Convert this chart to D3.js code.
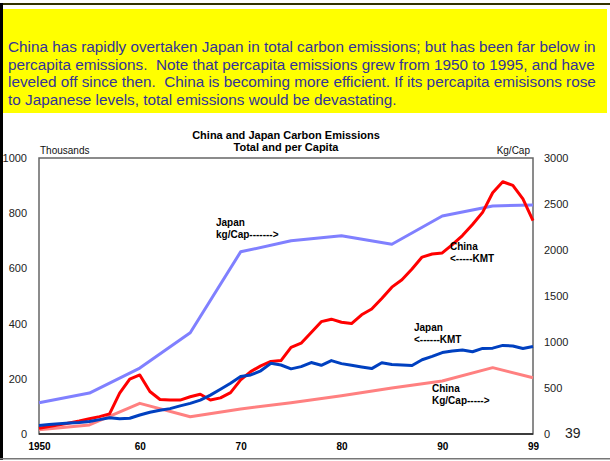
<!DOCTYPE html>
<html>
<head>
<meta charset="utf-8">
<script src="https://cdn.jsdelivr.net/npm/d3@7"></script>
<style>
  html, body { margin: 0; padding: 0; background: #fff; }
  svg { display: block; }
  .caption { white-space: pre; }
</style>
</head>
<body>
<svg id="chart" width="610" height="461"></svg>
<script>
// Annual emissions, thousand metric tons of carbon (left axis)
const years = d3.range(1950, 2000);
const chinaKmt = [21, 27, 33, 40, 47, 55, 63, 73, 148, 199,
                  214, 154, 125, 123, 123, 135, 144, 123, 131, 150,
                  196, 226, 247, 263, 266, 314, 329, 368, 407, 416,
                  405, 400, 432, 453, 491, 532, 559, 598, 641, 652,
                  656, 686, 719, 759, 803, 874, 914, 901, 852, 773];
const japanKmt = [31, 34, 37, 40, 42, 45, 52, 59, 55, 57,
                  69, 79, 86, 92, 102, 111, 123, 141, 162, 184,
                  208, 214, 229, 256, 250, 236, 244, 259, 249, 266,
                  255, 249, 243, 237, 258, 252, 250, 248, 269, 281,
                  295, 301, 304, 298, 310, 311, 321, 319, 310, 317];

// Per-capita emissions, kg per person (right axis)
const perCapYears = [1950, 1955, 1960, 1965, 1970, 1975, 1980, 1985, 1990, 1995, 1999];
const japanKgCap = [340, 445, 717, 1100, 1980, 2100, 2155, 2062, 2370, 2478, 2490];
const chinaKgCap = [45, 98, 333, 188, 272, 340, 416, 500, 576, 721, 612];

// Tick labels
const leftTicks = [0, 200, 400, 600, 800, 1000];
const rightTicks = [0, 500, 1000, 1500, 2000, 2500, 3000];
const xTicks = [1950, 1960, 1970, 1980, 1990, 1999];

const captionLines = [
  "China has rapidly overtaken Japan in total carbon emissions; but has been far below in",
  "percapita emissions.  Note that percapita emissions grew from 1950 to 1995, and have",
  "leveled off since then.  China is becoming more efficient. If its percapita emisisons rose",
  "to Japanese levels, total emissions would be devastating."
];

const svg = d3.select("#chart");
const font = "Arial, 'Liberation Sans', Helvetica, sans-serif";

// Caption box
svg.append("rect").attr("x", 3).attr("y", 9).attr("width", 604).attr("height", 104).attr("fill", "#ffff00");
svg.append("g").selectAll("text").data(captionLines).join("text")
  .attr("class", "caption")
  .attr("x", 8).attr("y", (d, i) => 52 + i * 17.7)
  .attr("font-family", font).attr("font-size", 15.3).attr("fill", "#333399")
  .text(d => d);

// Scales
const plot = { left: 39, right: 533, top: 158, bottom: 434 };
const x = d3.scaleLinear().domain([1950, 1999]).range([plot.left, plot.right]);
const yL = d3.scaleLinear().domain([0, 1000]).range([plot.bottom, plot.top]);
const yR = d3.scaleLinear().domain([0, 3000]).range([plot.bottom, plot.top]);

// Titles
svg.append("text").attr("x", 286).attr("y", 139).attr("text-anchor", "middle")
  .attr("font-family", font).attr("font-size", 11).attr("font-weight", "bold").text("China and Japan Carbon Emissions");
svg.append("text").attr("x", 286).attr("y", 151).attr("text-anchor", "middle")
  .attr("font-family", font).attr("font-size", 11).attr("font-weight", "bold").text("Total and per Capita");
svg.append("text").attr("x", 40).attr("y", 154)
  .attr("font-family", font).attr("font-size", 10).attr("fill", "#111").text("Thousands");
svg.append("text").attr("x", 530).attr("y", 154).attr("text-anchor", "end")
  .attr("font-family", font).attr("font-size", 10).attr("fill", "#111").text("Kg/Cap");

// Axes
const styleAxis = g => {
  g.select(".domain").remove();
  g.selectAll("text").attr("font-family", font).attr("fill", "#222");
};
svg.append("g").attr("transform", `translate(${plot.left},0)`)
  .call(d3.axisLeft(yL).tickValues(leftTicks).tickSize(0).tickPadding(12).tickFormat(d3.format("d")))
  .call(styleAxis)
  .call(g => g.selectAll("text").attr("font-size", 11));
svg.append("g").attr("transform", `translate(${plot.right},0)`)
  .call(d3.axisRight(yR).tickValues(rightTicks).tickSize(0).tickPadding(11).tickFormat(d3.format("d")))
  .call(styleAxis)
  .call(g => g.selectAll("text").attr("font-size", 11));
svg.append("g").attr("transform", `translate(0,${plot.bottom})`)
  .call(d3.axisBottom(x).tickValues(xTicks).tickSize(0).tickPadding(9)
    .tickFormat(d => d === 1950 ? "1950" : String(d % 100).padStart(2, "0")))
  .call(styleAxis)
  .call(g => g.selectAll("text").attr("font-size", 10).attr("font-weight", "bold").attr("fill", "#000"));

// Plot frame
svg.append("rect").attr("x", plot.left).attr("y", plot.top)
  .attr("width", plot.right - plot.left).attr("height", plot.bottom - plot.top)
  .attr("fill", "none").attr("stroke", "#666").attr("stroke-width", 1.5);
svg.append("line").attr("x1", plot.left).attr("x2", plot.right)
  .attr("y1", plot.bottom).attr("y2", plot.bottom).attr("stroke", "#222").attr("stroke-width", 1.5);

// Series
const lineL = d3.line().x((d, i) => x(years[i])).y(d => yL(d));
const lineR = d3.line().x((d, i) => x(perCapYears[i])).y(d => yR(d));

const series = [
  { data: japanKgCap, gen: lineR, color: "#8080ff" },
  { data: chinaKgCap, gen: lineR, color: "#ff8080" },
  { data: chinaKmt, gen: lineL, color: "#ff0000" },
  { data: japanKmt, gen: lineL, color: "#0040c0" }
];
svg.append("g").selectAll("path").data(series).join("path")
  .attr("d", d => d.gen(d.data))
  .attr("fill", "none")
  .attr("stroke", d => d.color)
  .attr("stroke-width", 3)
  .attr("stroke-linejoin", "round");

// Series annotations
const notes = [
  { x: 216, y: 226, lines: ["Japan", "kg/Cap------->"] },
  { x: 450, y: 250, lines: ["China", "<-----KMT"] },
  { x: 414, y: 331, lines: ["Japan", "<------KMT"] },
  { x: 432, y: 392, lines: ["China", "Kg/Cap----->"] }
];
notes.forEach(n => {
  svg.append("text").attr("font-family", font).attr("font-size", 10).attr("font-weight", "bold")
    .selectAll("tspan").data(n.lines).join("tspan")
    .attr("x", n.x).attr("y", (d, i) => n.y + i * 12).text(d => d);
});

// Slide number
svg.append("text").attr("x", 565).attr("y", 438)
  .attr("font-family", font).attr("font-size", 14).attr("fill", "#222").text("39");

// Slide frame (drawn over the edge of the page content)
svg.append("rect").attr("x", 0).attr("y", 3).attr("width", 610).attr("height", 2).attr("fill", "#333300");
svg.append("rect").attr("x", 0).attr("y", 3).attr("width", 3).attr("height", 457).attr("fill", "#000");
svg.append("rect").attr("x", 0).attr("y", 458).attr("width", 610).attr("height", 1.5).attr("fill", "#777");
</script>
</body>
</html>
